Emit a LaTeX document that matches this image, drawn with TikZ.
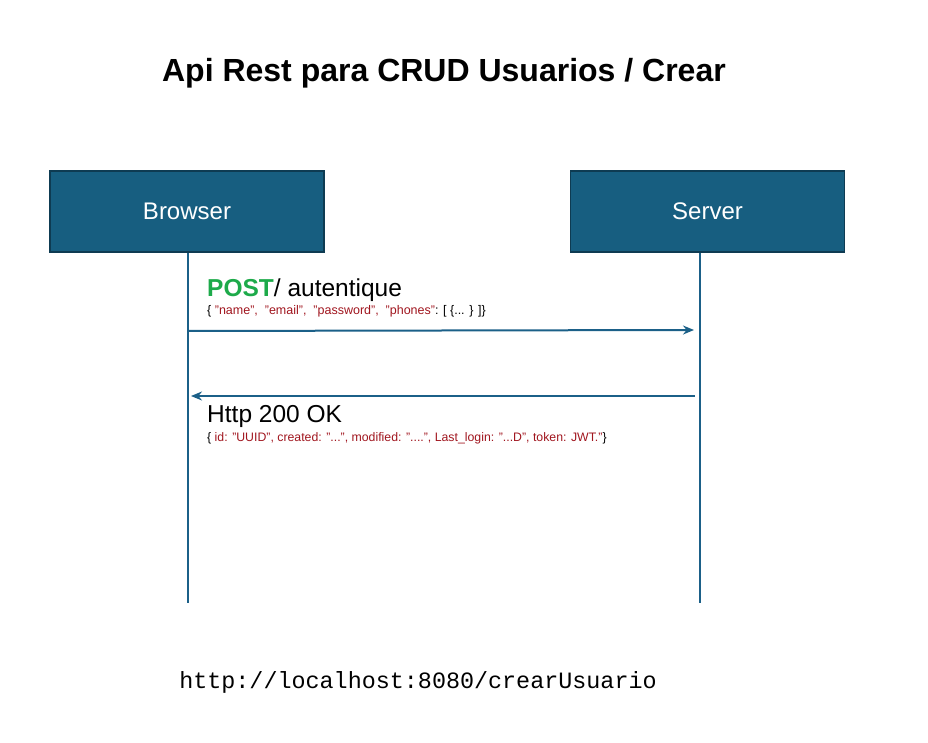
\documentclass[tikz,border=0pt]{standalone}
\usepackage{fontspec}
\setmainfont{Liberation Sans}
\setmonofont{Liberation Mono}
\usetikzlibrary{positioning, arrows.meta}
\definecolor{boxblue}{HTML}{175E80}
\definecolor{boxedge}{HTML}{0E3B52}
\definecolor{lineblue}{HTML}{1B6088}
\definecolor{postgreen}{HTML}{1DAA4A}
\definecolor{jsonred}{HTML}{A0151E}
\begin{document}
\begin{tikzpicture}[x=1pt, y=-1pt,
  actor/.style={draw=boxedge, line width=1.5pt, fill=boxblue, text=white, minimum width=274pt, minimum height=81pt, font=\fontsize{24}{28}\selectfont},
  life/.style={draw=lineblue, line width=1.5pt},
  msg/.style={draw=lineblue, line width=2pt, -{Stealth[length=11pt, width=9pt]}},
  lbl/.style={anchor=west, inner sep=0pt, font=\fontsize{24.5}{28}\selectfont},
  json/.style={anchor=west, inner sep=0pt, font=\fontsize{12.5}{14}\selectfont}]
\useasboundingbox (0,0) rectangle (928,743);
\node[font=\bfseries\fontsize{32}{36}\selectfont] (title) at (444,73) {Api Rest para CRUD Usuarios / Crear};

\node[actor] (b) at (187,211.5) {Browser};
\node[actor] (s) at (707.5,211.5) {Server};
\coordinate (bend) at (188,603);
\coordinate (send) at (700,603);
\draw[life] (b.south -| bend) -- (bend);
\draw[life] (s.south -| send) -- (send);

% request
\coordinate (b1) at (188,331);
\coordinate (s1) at (694,330);
\draw[msg] (b1) -- (s1);
\node[lbl] (post) at (207,290) {\textcolor{postgreen}{\bfseries POST}/ autentique};
\node[json] (req) at (207,311) {\{ \textcolor{jsonred}{"name",\ \ "email",\ \ "password",\ \ "phones"}: [ \{... \} ]\}};

% response
\coordinate (s2) at (695,396);
\coordinate (b2) at (191,396);
\draw[msg] (s2) -- (b2);
\node[lbl] (ok) at (207,416) {Http 200 OK};
\node[json] (resp) at (207,438) {\fontsize{12.3}{14}\selectfont\{ \textcolor{jsonred}{id: "UUID", created: "...", modified: "....", Last\_login: "...D", token: JWT."}\}};

\node[font=\ttfamily\fontsize{23.4}{28}\selectfont] (url) at (418,682) {http://localhost:8080/crearUsuario};
\end{tikzpicture}
\end{document}
